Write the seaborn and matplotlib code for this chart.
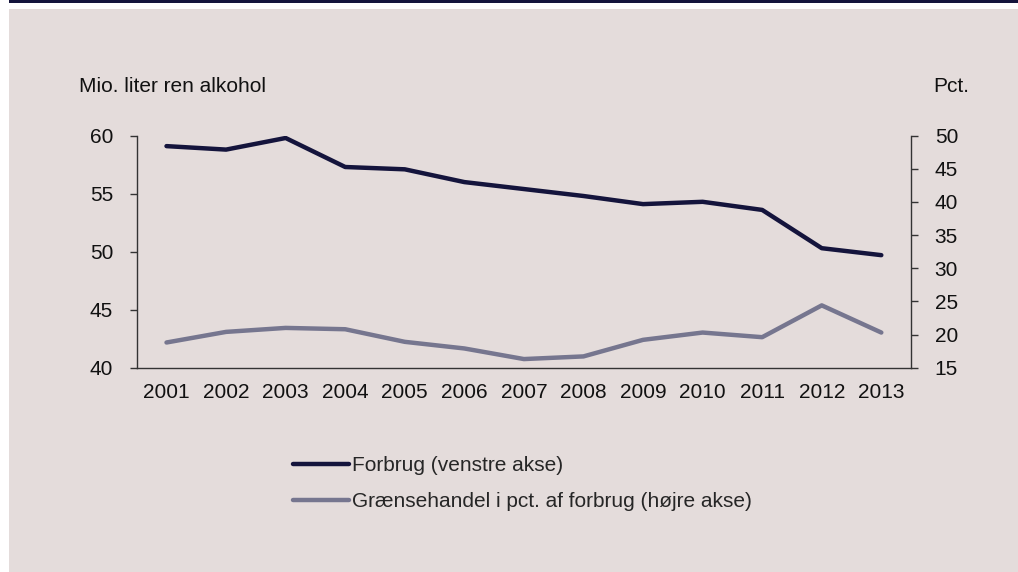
import pandas as pd
import numpy as np
import seaborn as sns
import matplotlib.pyplot as plt
from matplotlib.patches import Rectangle
from matplotlib.lines import Line2D

# Data
years = [2001, 2002, 2003, 2004, 2005, 2006, 2007, 2008, 2009, 2010, 2011, 2012, 2013]
forbrug = [59.1, 58.8, 59.8, 57.3, 57.1, 56.0, 55.4, 54.8, 54.1, 54.3, 53.6, 50.3, 49.7]
graense = [18.8, 20.4, 21.0, 20.8, 18.9, 17.9, 16.3, 16.7, 19.2, 20.3, 19.6, 24.4, 20.3]

left_ticks = [40, 45, 50, 55, 60]
right_ticks = [15, 20, 25, 30, 35, 40, 45, 50]

navy = '#14143c'
grey = '#76768f'
bg = '#e4dcdb'
fs = 15

df = pd.DataFrame({'year': years, 'forbrug': forbrug, 'graense': graense})

sns.set_style('ticks')
plt.rcParams['font.family'] = ['Liberation Sans', 'DejaVu Sans']
plt.rcParams['font.size'] = fs

fig = plt.figure(figsize=(10.18, 5.72), dpi=100)
fig.patch.set_facecolor('white')
# background panel + top band
fig.add_artist(Rectangle((9 / 1018, 0), 1, 1 - 9 / 572, transform=fig.transFigure,
                         facecolor=bg, edgecolor='none', zorder=0))
fig.add_artist(Rectangle((9 / 1018, 1 - 2.5 / 572), 1, 2.5 / 572, transform=fig.transFigure,
                         facecolor=navy, edgecolor='none', zorder=0))

ax = fig.add_axes([0.1343, 0.3572, 0.895 - 0.1343, 0.7628 - 0.3572])
ax.set_facecolor('none')
ax2 = ax.twinx()
ax2.set_facecolor('none')

sns.lineplot(data=df, x='year', y='forbrug', ax=ax, color=navy, linewidth=3.2,
             legend=False, solid_capstyle='round')
sns.lineplot(data=df, x='year', y='graense', ax=ax2, color=grey, linewidth=3.2,
             legend=False, solid_capstyle='round')

ax.set_xlim(years[0] - 0.5, years[-1] + 0.5)
ax.set_ylim(40, 60)
ax2.set_ylim(15, 50)
ax.set_xticks(years)
ax.set_xticklabels([str(y) for y in years])
ax.set_yticks(left_ticks)
ax2.set_yticks(right_ticks)
ax.set_xlabel('')
ax.set_ylabel('')
ax2.set_ylabel('')

for a in (ax, ax2):
    a.spines['top'].set_visible(False)
    for s in a.spines.values():
        s.set_color('#333333')
        s.set_linewidth(1.0)
ax.spines['right'].set_visible(False)
ax2.spines['left'].set_visible(False)
ax2.spines['bottom'].set_visible(False)

ax.tick_params(axis='x', length=0, pad=11, labelsize=fs, colors='#111111')
ax.tick_params(axis='y', length=5, width=1, pad=12, labelsize=fs, colors='#333333',
               labelcolor='#111111')
ax2.tick_params(axis='y', length=5, width=1, pad=12, labelsize=fs, colors='#333333',
                labelcolor='#111111')

fig.text(79 / 1018, 1 - 87 / 572, 'Mio. liter ren alkohol', fontsize=fs,
         ha='left', va='center', color='#111111')
fig.text(933 / 1018, 1 - 87 / 572, 'Pct.', fontsize=fs,
         ha='left', va='center', color='#111111')

handles = [Line2D([], [], color=navy, linewidth=3.2, solid_capstyle='round'),
           Line2D([], [], color=grey, linewidth=3.2, solid_capstyle='round')]
labels = ['Forbrug (venstre akse)', 'Grænsehandel i pct. af forbrug (højre akse)']
fig.legend(handles, labels, loc='upper left', bbox_to_anchor=(293 / 1018, 1 - 456 / 572),
           frameon=False, fontsize=fs, handlelength=2.7, handletextpad=0.15,
           labelspacing=0.82, borderpad=0, borderaxespad=0)

fig.savefig('out.png', dpi=100, facecolor=fig.get_facecolor())
